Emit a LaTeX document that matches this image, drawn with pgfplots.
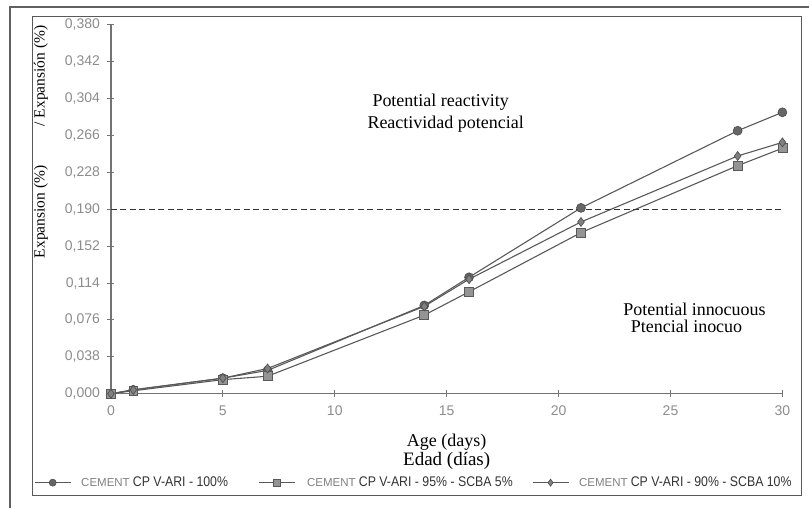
\documentclass[border=0pt]{standalone}
\usepackage{fontspec}
\setmainfont{Liberation Serif}
\setsansfont{Liberation Sans}
\newfontfamily\narrowsans[FakeStretch=0.88]{Liberation Sans}
\usepackage{pgfplots}
\pgfplotsset{compat=1.18}
\definecolor{axgray}{gray}{0.45}
\definecolor{lngray}{gray}{0.35}
\definecolor{lblgray}{gray}{0.55}
\definecolor{mkA}{gray}{0.40}
\definecolor{mkB}{gray}{0.58}
\definecolor{mkC}{gray}{0.50}
\begin{document}
\begin{tikzpicture}
\path (0pt,0pt) rectangle (810pt,508pt);
\draw[gray!75!black, line width=1.2pt] (10pt,0pt) -- (10pt,501pt) -- (810pt,501pt);
\draw[gray!70!black, line width=1pt] (33pt,12pt) rectangle (802pt,491pt);
\begin{axis}[
  at={(111pt,114pt)}, anchor=south west,
  scale only axis, width=672pt, height=369pt,
  xmin=0, xmax=30, ymin=0, ymax=0.38,
  clip=false,
  axis lines=left,
  axis line style={-, axgray, line width=1.3pt},
  xtick={0,5,10,15,20,25,30},
  ytick={0,0.038,0.076,0.114,0.152,0.19,0.228,0.266,0.304,0.342,0.38},
  tick align=center, major tick length=7pt,
  tick style={axgray, line width=1pt},
  xticklabel style={font=\fontsize{14}{16}\selectfont\sffamily, text=lblgray, yshift=-5pt},
  yticklabel style={font=\fontsize{14}{16}\selectfont\sffamily, text=lblgray, xshift=-4pt,
    /pgf/number format/.cd, fixed, fixed zerofill, precision=3, use comma, assume math mode=true},
  xticklabel={\pgfmathprintnumber[assume math mode=true]{\tick}},
  legend columns=3,
  legend style={at={(-0.1146,-0.2412)}, anchor=west, draw=none, fill=none,
    inner sep=0pt, nodes={inner sep=0pt}, font=\fontsize{11.5}{13}\selectfont\sffamily,
    /tikz/every even column/.style={column sep=0pt},
    /tikz/every odd column/.style={column sep=0pt}},
  legend cell align=left,
  legend image code/.code={\draw[mark repeat=2, mark phase=2, mark size=3.5pt] plot coordinates {(0pt,0pt) (18pt,0pt) (36pt,0pt)};},
]
\addplot[lngray, line width=1.1pt, mark=*, mark size=4.5pt, mark options={fill=mkA, draw=gray!60!black, line width=0.6pt}]
  coordinates {(0,0) (1,0.004) (5,0.016) (7,0.024) (14,0.091) (16,0.120) (21,0.1915) (28,0.271) (30,0.290)};
\addlegendentry{\hspace{10pt}\makebox[177pt][l]{{\color{gray}CEMENT} {\narrowsans\fontsize{14}{16}\selectfont\color{black!80} CP V-ARI - 100\%}}}
\addplot[lngray, line width=1.1pt, mark=square*, mark size=4.5pt, mark options={fill=mkB, draw=gray!70!black, line width=0.6pt}]
  coordinates {(0,0) (1,0.003) (5,0.0145) (7,0.018) (14,0.081) (16,0.105) (21,0.166) (28,0.235) (30,0.253)};
\addlegendentry{\hspace{12pt}\makebox[225pt][l]{{\color{gray}CEMENT} {\narrowsans\fontsize{14}{16}\selectfont\color{black!80} CP V-ARI - 95\% - SCBA 5\%}}}
\addplot[lngray, line width=1.1pt, mark=diamond*, mark size=4.5pt, mark options={fill=mkC, draw=gray!60!black, line width=0.6pt}]
  coordinates {(0,0) (1,0.004) (5,0.016) (7,0.026) (14,0.090) (16,0.118) (21,0.177) (28,0.245) (30,0.259)};
\addlegendentry{\hspace{10pt}{\color{gray}CEMENT} {\narrowsans\fontsize{14}{16}\selectfont\color{black!80} CP V-ARI - 90\% - SCBA 10\%}}
\addplot[forget plot, gray!40!black, line width=1.2pt, dash pattern=on 6pt off 3.5pt]
  coordinates {(0,0.19) (30,0.19)};
\end{axis}
\begin{scope}[every node/.style={font=\fontsize{18}{20}\selectfont, inner sep=0pt}]
\node at (441pt,406pt) {Potential reactivity};
\node at (446pt,384pt) {Reactividad potencial};
\node at (695pt,198pt) {Potential innocuous};
\node at (687pt,181pt) {Ptencial inocuo};
\node at (447pt,65pt) {Age (days)};
\node[font=\fontsize{19}{21}\selectfont] at (447pt,47pt) {Edad (días)};
\node[rotate=90, font=\fontsize{15.5}{19}\selectfont] at (41pt,296pt) {Expansion (\%)};
\node[rotate=90, font=\fontsize{15.5}{19}\selectfont] at (41pt,432pt) {/ Expansión (\%)};
\end{scope}
\end{tikzpicture}
\end{document}
